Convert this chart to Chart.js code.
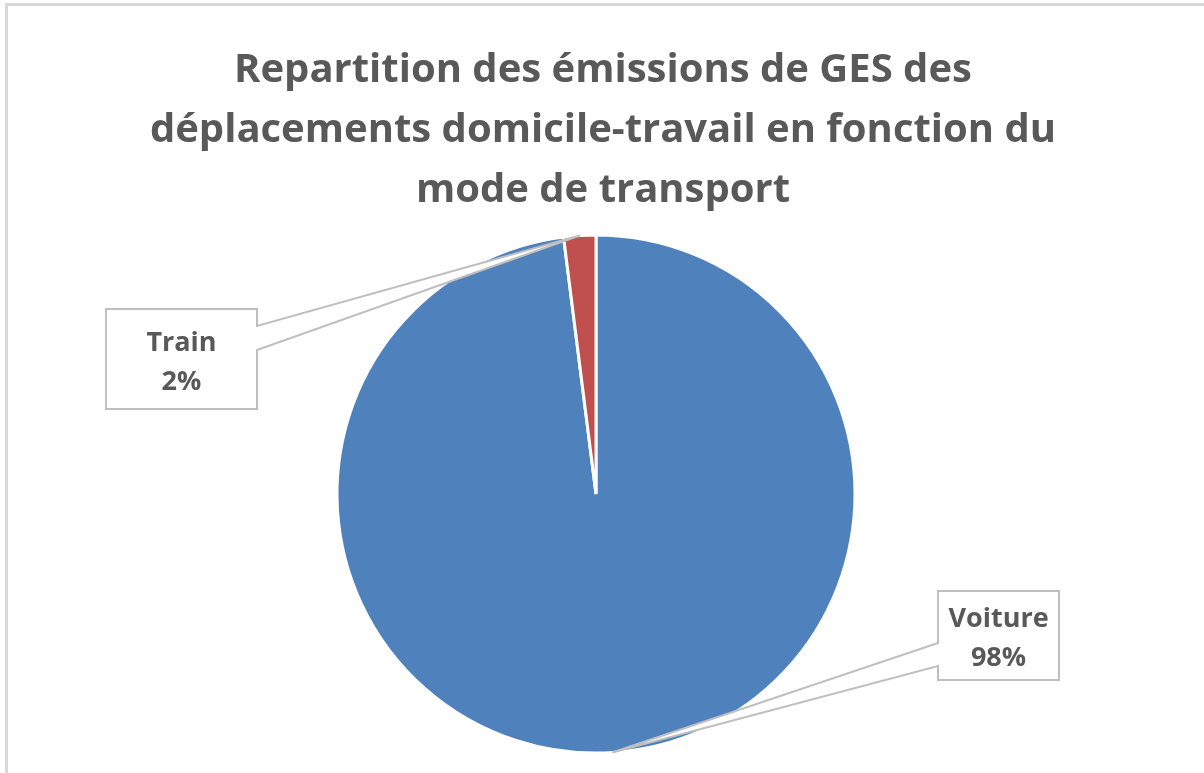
<!DOCTYPE html>
<html>
<head>
<meta charset="utf-8">
<script src="https://cdn.jsdelivr.net/npm/chart.js@4/dist/chart.umd.min.js"></script>
<style>
    html, body { margin: 0; padding: 0; background: #fff; }
    #wrap { width: 1204px; height: 773px; }
</style>
</head>
<body>
<div id="wrap"><canvas id="chart" width="1204" height="773"></canvas></div>
<script>
const titleLines = [
    'Repartition des émissions de GES des',
    'déplacements domicile-travail en fonction du',
    'mode de transport'
];
const categories = ['Voiture', 'Train'];
const shares = [98, 2];
const colors = ['#4F81BD', '#C0504D'];

const textColor = '#595959';
const lineColor = '#BFBFBF';
const fontFamily = '"Open Sans", "Liberation Sans", sans-serif';

// callout boxes, same order as the categories
const callouts = [
    { x: 938, y: 591, w: 121, h: 89, side: 'left', b1: 643, b2: 666 },
    { x: 106, y: 309, w: 151, h: 100, side: 'right', b1: 326, b2: 350 }
];

const frame = {
    id: 'frame',
    beforeDraw(chart) {
        const ctx = chart.ctx;
        ctx.save();
        ctx.strokeStyle = '#D9D9D9';
        ctx.lineWidth = 3;
        ctx.beginPath();
        ctx.moveTo(6.5, 773);
        ctx.lineTo(6.5, 4.5);
        ctx.lineTo(1204, 4.5);
        ctx.stroke();

        ctx.fillStyle = textColor;
        ctx.font = `bold 40px ${fontFamily}`;
        ctx.textAlign = 'center';
        ctx.textBaseline = 'alphabetic';
        titleLines.forEach((line, i) => ctx.fillText(line, 603, 82 + i * 60));
        ctx.restore();
    }
};

const calloutLabels = {
    id: 'calloutLabels',
    afterDatasetsDraw(chart) {
        const ctx = chart.ctx;
        const meta = chart.getDatasetMeta(0);
        const total = shares.reduce((s, v) => s + v, 0);

        meta.data.forEach((arc, i) => {
            const c = callouts[i];
            const { x, y, startAngle, endAngle, outerRadius } = arc.getProps(['x', 'y', 'startAngle', 'endAngle', 'outerRadius'], true);
            const mid = (startAngle + endAngle) / 2;
            const tip = [x + Math.cos(mid) * outerRadius, y + Math.sin(mid) * outerRadius];

            let pts;
            if (c.side === 'right') {
                pts = [[c.x, c.y], [c.x + c.w, c.y], [c.x + c.w, c.b1], tip,
                       [c.x + c.w, c.b2], [c.x + c.w, c.y + c.h], [c.x, c.y + c.h]];
            } else {
                pts = [[c.x, c.y], [c.x + c.w, c.y], [c.x + c.w, c.y + c.h], [c.x, c.y + c.h],
                       [c.x, c.b2], tip, [c.x, c.b1]];
            }

            ctx.save();
            ctx.beginPath();
            pts.forEach((p, k) => k ? ctx.lineTo(p[0], p[1]) : ctx.moveTo(p[0], p[1]));
            ctx.closePath();
            ctx.fillStyle = '#fff';
            ctx.fill();
            ctx.strokeStyle = lineColor;
            ctx.lineWidth = 2;
            ctx.lineJoin = 'miter';
            ctx.stroke();

            ctx.fillStyle = textColor;
            ctx.font = `bold 27px ${fontFamily}`;
            ctx.textAlign = 'center';
            ctx.textBaseline = 'middle';
            const cx = c.x + c.w / 2;
            const cy = c.y + c.h / 2;
            const pct = Math.round(shares[i] / total * 100) + '%';
            ctx.fillText(categories[i], cx, cy - 16);
            ctx.fillText(pct, cx, cy + 23);
            ctx.restore();
        });
    }
};

new Chart(document.getElementById('chart'), {
    type: 'pie',
    data: {
        labels: categories,
        datasets: [{
            data: shares,
            backgroundColor: colors,
            borderColor: '#fff',
            borderWidth: 3,
            radius: 259
        }]
    },
    plugins: [frame, calloutLabels],
    options: {
        responsive: false,
        animation: false,
        events: [],
        layout: {
            padding: { top: 216, bottom: 1, left: 0, right: 12 }
        },
        plugins: {
            legend: { display: false },
            tooltip: { enabled: false },
            title: { display: false }
        }
    }
});
</script>
</body>
</html>
